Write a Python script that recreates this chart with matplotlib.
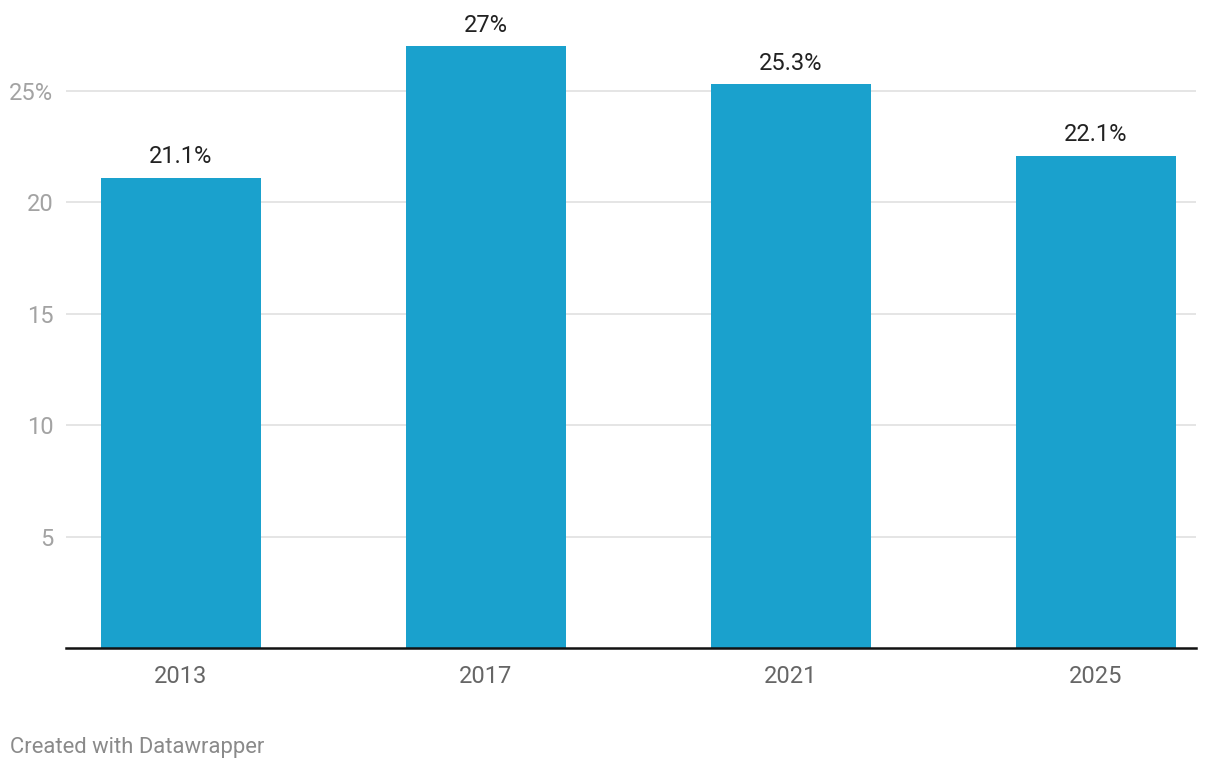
import matplotlib
matplotlib.use("Agg")
import matplotlib.pyplot as plt

years = ["2013", "2017", "2021", "2025"]
values = [21.1, 27.0, 25.3, 22.1]
value_labels = ["21.1%", "27%", "25.3%", "22.1%"]
yticks = [5, 10, 15, 20, 25]
ytick_labels = ["5", "10", "15", "20", "25%"]

plt.rcParams['font.family'] = ['Roboto', 'DejaVu Sans']

W, H = 1220, 770
fig = plt.figure(figsize=(W / 100, H / 100), dpi=100)
left, right, bottom, top = 66, 1196, 648, 33
ax = fig.add_axes([left / W, 1 - bottom / H, (right - left) / W, (bottom - top) / H])

x = list(range(len(years)))
ax.bar(x, values, width=0.525, color="#1aa1cd", zorder=2)
ax.set_xlim(-0.377, 3.328)
ax.set_ylim(0, 27.6)

ax.set_yticks(yticks)
ax.set_yticklabels(ytick_labels)
ax.grid(axis="y", color="#e3e3e3", linewidth=1.3, zorder=0)
ax.set_xticks(x)
ax.set_xticklabels(years)

for s in ["top", "right", "left"]:
    ax.spines[s].set_visible(False)
ax.spines["bottom"].set_color("#111111")
ax.spines["bottom"].set_linewidth(1.8)
ax.spines["bottom"].set_zorder(3)

ax.tick_params(axis="y", length=0, pad=9, labelsize=17, labelcolor="#a3a3a3")
ax.tick_params(axis="x", length=0, pad=12, labelsize=17, labelcolor="#666666")

for xi, v, lab in zip(x, values, value_labels):
    ax.annotate(lab, (xi, v), xytext=(0, 7), textcoords="offset points",
                ha="center", va="bottom", fontsize=17, color="#222222")

fig.text(10 / W, 1 - 748 / H, "Created with Datawrapper", fontsize=15.8,
         color="#8a8a8a", ha="left", va="center")

fig.savefig("out.png", dpi=100)
